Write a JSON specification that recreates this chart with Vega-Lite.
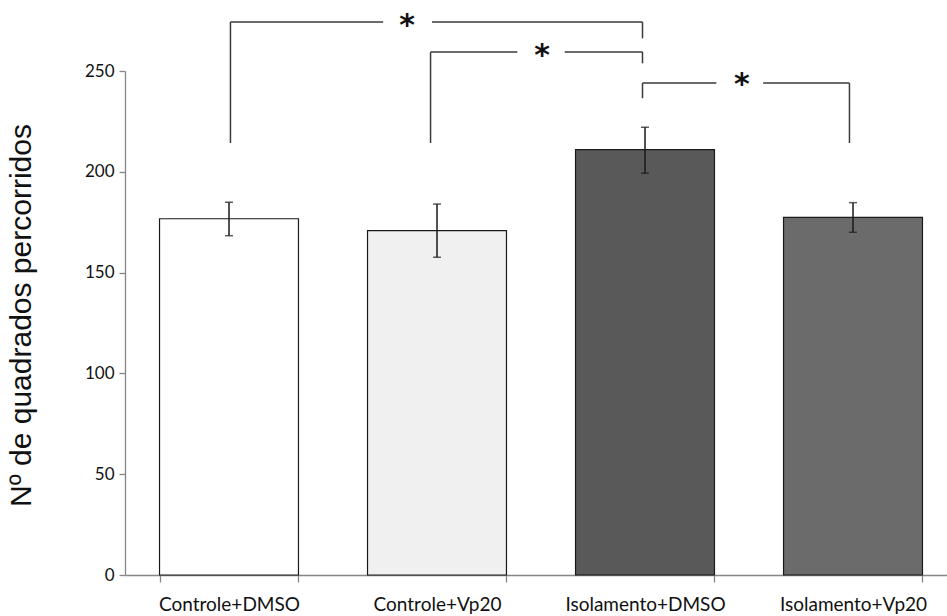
{
  "$schema": "https://vega.github.io/schema/vega-lite/v6.json",
  "width": 832,
  "height": 504,
  "autosize": {"type": "none"},
  "padding": {"left": 125, "top": 71, "right": 0, "bottom": 41},
  "background": "white",
  "config": {"view": {"stroke": null}},
  "datasets": {
    "bars": [
      {"grupo": "Controle+DMSO", "media": 176.7, "lo": 168.3, "hi": 184.9},
      {"grupo": "Controle+Vp20", "media": 170.8, "lo": 157.6, "hi": 184.0},
      {"grupo": "Isolamento+DMSO", "media": 211.0, "lo": 199.3, "hi": 222.1},
      {"grupo": "Isolamento+Vp20", "media": 177.4, "lo": 170.0, "hi": 184.7}
    ],
    "segs": [
      {"x": 0.507, "x2": 0.507, "y": 214.3, "y2": 274.3},
      {"x": 0.507, "x2": 1.241, "y": 274.3, "y2": 274.3},
      {"x": 1.476, "x2": 2.488, "y": 274.3, "y2": 274.3},
      {"x": 2.488, "x2": 2.488, "y": 274.3, "y2": 266.2},
      {"x": 1.469, "x2": 1.469, "y": 214.3, "y2": 259.4},
      {"x": 1.469, "x2": 1.886, "y": 259.4, "y2": 259.4},
      {"x": 2.114, "x2": 2.488, "y": 259.4, "y2": 259.4},
      {"x": 2.488, "x2": 2.488, "y": 259.4, "y2": 253.8},
      {"x": 2.488, "x2": 2.488, "y": 236.5, "y2": 244.0},
      {"x": 2.488, "x2": 2.843, "y": 244.0, "y2": 244.0},
      {"x": 3.068, "x2": 3.483, "y": 244.0, "y2": 244.0},
      {"x": 3.483, "x2": 3.483, "y": 244.0, "y2": 214.3}
    ],
    "stars": [
      {"x": 1.356, "y": 268.0, "label": "*"},
      {"x": 2.005, "y": 253.0, "label": "*"},
      {"x": 2.966, "y": 238.4, "label": "*"}
    ]
  },
  "layer": [
    {
      "data": {"name": "bars"},
      "encoding": {
        "x": {
          "field": "grupo", "type": "nominal", "sort": null,
          "scale": {"paddingInner": 0.332, "paddingOuter": 0.166},
          "axis": {
            "title": null, "labelAngle": 0, "labelFont": "Lato",
            "labelFontSize": 19, "labelColor": "#111", "labelPadding": 13,
            "tickBand": "extent", "tickSize": 7, "tickColor": "#868686",
            "domainColor": "#868686", "domainWidth": 1.3, "tickWidth": 1.3
          }
        }
      },
      "layer": [
        {
          "mark": {"type": "bar", "stroke": "#1a1a1a", "strokeWidth": 1.2},
          "encoding": {
            "y": {
              "field": "media", "type": "quantitative",
              "scale": {"domain": [0, 250], "nice": false},
              "axis": {
                "title": "Nº de quadrados percorridos", "titleFont": "Liberation Sans",
                "titleFontSize": 30, "titleFontWeight": "normal", "titleColor": "#111",
                "titlePadding": 48, "titleY": 244, "values": [0, 50, 100, 150, 200, 250],
                "labelFont": "Lato", "labelFontSize": 17, "labelColor": "#111",
                "labelPadding": 5, "tickSize": 6, "tickColor": "#868686",
                "domainColor": "#868686", "domainWidth": 1.3, "tickWidth": 1.3, "grid": false
              }
            },
            "fill": {
              "field": "grupo", "type": "nominal", "legend": null,
              "scale": {
                "domain": ["Controle+DMSO", "Controle+Vp20", "Isolamento+DMSO", "Isolamento+Vp20"],
                "range": ["#ffffff", "#f0f0f0", "#595959", "#6b6b6b"]
              }
            }
          }
        },
        {
          "mark": {"type": "rule", "color": "#1a1a1a", "strokeWidth": 1.5},
          "encoding": {"y": {"field": "lo", "type": "quantitative"}, "y2": {"field": "hi"}}
        },
        {
          "mark": {"type": "tick", "color": "#1a1a1a", "size": 8, "thickness": 1.5},
          "encoding": {"y": {"field": "lo", "type": "quantitative"}}
        },
        {
          "mark": {"type": "tick", "color": "#1a1a1a", "size": 8, "thickness": 1.5},
          "encoding": {"y": {"field": "hi", "type": "quantitative"}}
        }
      ]
    },
    {
      "layer": [
        {
          "data": {"name": "segs"},
          "mark": {"type": "rule", "color": "#3a3a3a", "strokeWidth": 1.5},
          "encoding": {
            "x": {"field": "x", "type": "quantitative", "scale": {"domain": [0, 4], "nice": false}, "axis": null},
            "x2": {"field": "x2"},
            "y": {"field": "y", "type": "quantitative", "scale": {"domain": [0, 250], "nice": false}, "axis": null},
            "y2": {"field": "y2"}
          }
        },
        {
          "data": {"name": "stars"},
          "mark": {"type": "text", "font": "DejaVu Sans", "fontSize": 30, "fontWeight": "bold", "baseline": "alphabetic", "align": "center", "color": "#111"},
          "encoding": {
            "x": {"field": "x", "type": "quantitative", "scale": {"domain": [0, 4], "nice": false}, "axis": null},
            "y": {"field": "y", "type": "quantitative", "scale": {"domain": [0, 250], "nice": false}, "axis": null},
            "text": {"field": "label"}
          }
        }
      ]
    }
  ],
  "resolve": {"scale": {"x": "independent"}, "axis": {"x": "independent", "y": "independent"}}
}
